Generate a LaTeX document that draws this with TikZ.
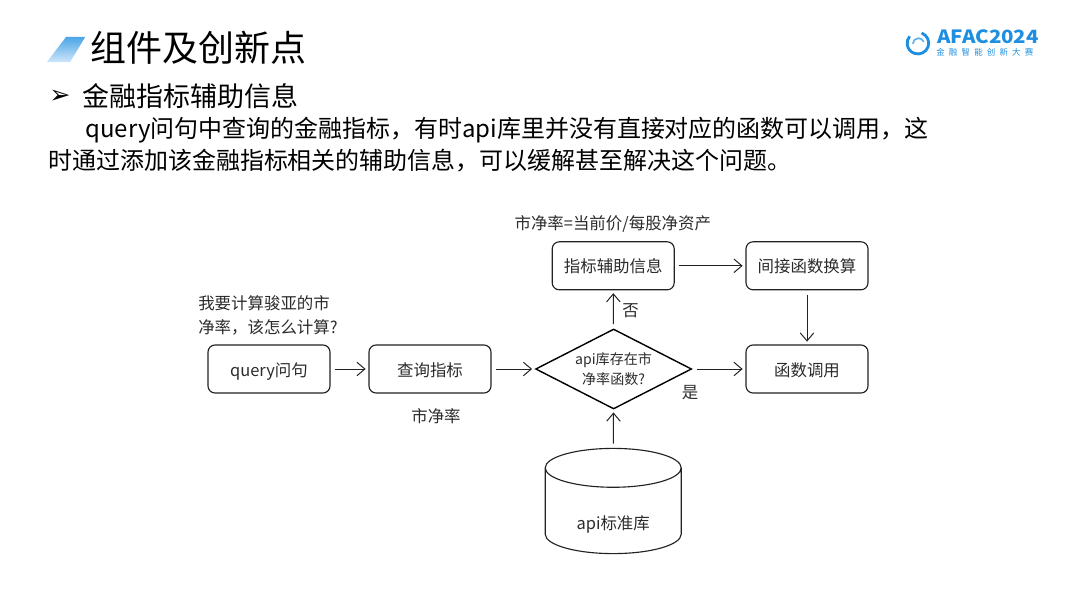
\documentclass[tikz,border=0pt]{standalone}
\usepackage{fontspec}
\setmainfont{Noto Sans CJK SC}
\newfontfamily\symfont{DejaVu Sans}
\newfontfamily\logofont[LetterSpace=50]{Noto Sans CJK SC}
\usetikzlibrary{arrows.meta, positioning, shapes.geometric}
\definecolor{myInk}{HTML}{2B2B2B}
\definecolor{myLine}{HTML}{222222}
\definecolor{myBlue}{HTML}{1E8FE0}
\definecolor{myLight}{HTML}{CFE6FA}

\begin{document}
\begin{tikzpicture}[
box/.style={draw=myLine, line width=0.8pt, rounded corners=5pt, minimum width=3.05cm, minimum height=1.2cm, align=center, inner sep=0pt, text height=10pt, text depth=0pt, font=\fontsize{11.7}{14}\selectfont, text=myInk},
check/.style={draw=black, line width=1pt, diamond, minimum width=3.9cm, minimum height=2cm, aspect=1.95, inner sep=0pt, align=center, font=\fontsize{10}{14.5}\selectfont, text=myInk},
store/.style={draw=myLine, line width=0.8pt, cylinder, shape border rotate=90, shape aspect=0.53, minimum width=3.4cm, minimum height=2.63cm, inner sep=0pt, text height=26pt, text depth=0pt, font=\fontsize{11.7}{14}\selectfont, text=myInk},
note/.style={align=left, inner sep=0pt, font=\fontsize{11.7}{17}\selectfont, text=myInk},
bodytext/.style={anchor=west, inner sep=0pt, font=\fontsize{17.05}{20}\selectfont, text=black},
arrow/.style={-{Straight Barb[length=2mm, width=3.4mm]}, line width=0.7pt, myLine, shorten <=3pt, shorten >=2pt}
]
\useasboundingbox (0,0) rectangle (27,15.175);

% header
\shade[top color=myBlue!80, middle color=white, bottom color=myLight] (1.17,13.62) -- (1.65,14.25) -- (2.13,14.25) -- (1.75,13.62) -- cycle;
\node[bodytext, font=\fontsize{25.6}{30}\selectfont] (title) at (2.25,13.98) {组件及创新点};
\node[anchor=center, inner sep=0pt, font=\symfont\fontsize{18}{20}\selectfont, text=black] (bullet) at (1.5,12.75) {➢};
\node[bodytext, font=\fontsize{19.2}{22}\selectfont] (subtitle) at (2.05,12.77) {金融指标辅助信息};
\node[bodytext] (lineone) at (2.13,11.93) {query问句中查询的金融指标，有时api库里并没有直接对应的函数可以调用，这};
\node[bodytext] (linetwo) at (1.2,11.16) {时通过添加该金融指标相关的辅助信息，可以缓解甚至解决这个问题。};

% logo
\draw[myBlue, line width=2pt] (23.04,14.35) arc[start angle=70, end angle=-220, radius=0.27];
\draw[myBlue!70, line width=1.2pt] (22.82,14.08) arc[start angle=180, end angle=20, radius=0.14];
\node[anchor=west, inner sep=0pt, xscale=1.12, transform shape, font=\bfseries\fontsize{13}{14}\selectfont, text=myBlue] (logotext) at (23.42,14.25) {AFAC2024};
\node[anchor=west, inner sep=0pt, font=\logofont\fontsize{6}{7}\selectfont, text=myBlue] (logosub) at (23.4,13.88) {金融智能创新大赛};

% flow
\node[box] (query) at (6.725,5.95) {query问句};
\node[box] (metric) at (10.75,5.95) {查询指标};
\node[check] (exists) at (15.34,5.95) {api库存在市\\净率函数?};
\node[box] (call) at (20.175,5.95) {函数调用};
\node[box] (aux) at (15.33,8.53) {指标辅助信息};
\node[box] (convert) at (20.175,8.53) {间接函数换算};
\node[store] (apidb) at (15.33,2.4) {api标准库};

\draw[arrow] (query) -- (metric);
\draw[arrow] (metric) -- (exists);
\draw[arrow] (exists) -- (call);
\draw[arrow] (exists) -- node[right=6pt, pos=0.47, note] (no) {否} (aux);
\draw[arrow] (aux) -- (convert);
\draw[arrow] (convert) -- (call);
\draw[arrow] (apidb) -- (exists);

\node[note, anchor=west] (ask) at (4.95,7.28) {我要计算骏亚的市\\净率，该怎么计算?};
\node[note] (rate) at (10.9,4.77) {市净率};
\node[note] (formula) at (15.32,9.58) {市净率=当前价/每股净资产};
\node[note] (yes) at (17.25,5.36) {是};
\end{tikzpicture}
\end{document}
